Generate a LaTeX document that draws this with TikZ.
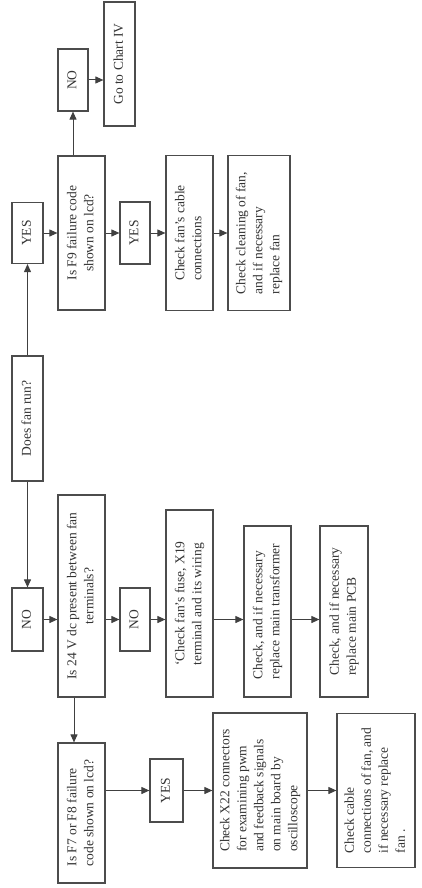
\documentclass[tikz,border=0pt]{standalone}
\usepackage{fontspec}
\setmainfont{Liberation Serif}
\usetikzlibrary{arrows.meta}
\newcommand{\turned}[2][l]{\rotatebox{90}{\begin{tabular}{@{}#1@{}}#2\end{tabular}}}
\tikzset{
  flowarrow/.style={-{Triangle[length=8pt, width=7pt]}, line width=1pt, black!75},
  boxnode/.style={draw=black!70, line width=1.2pt, inner sep=0pt, text=black!80},
  ansnode/.style={boxnode},
  asknode/.style={boxnode},
  actnode/.style={boxnode}
}

\begin{document}
\begin{tikzpicture}[x=1pt, y=-1pt, every node/.style={font=\fontsize{13.5}{17}\selectfont}]
  \useasboundingbox (0,0) rectangle (422,888);
  % start and answers
  \node[ansnode, minimum width=31pt, minimum height=125pt] (run) at (27.5,418.5) {\turned{Does fan run?}};
  \node[ansnode, minimum width=31pt, minimum height=63pt] (no1) at (27.5,619.5) {\turned{NO}};
  \node[ansnode, minimum width=31pt, minimum height=61pt] (yes1) at (27.5,233) {\turned{YES}};
  % questions
  \node[asknode, minimum width=47pt, minimum height=202pt] (v24) at (81.5,596) {\turned[c]{Is 24 V dc present between fan\\terminals?}};
  \node[asknode, minimum width=47pt, minimum height=154pt] (f9) at (81.5,233) {\turned[c]{Is F9 failure code\\shown on lcd?}};
  \node[asknode, minimum width=47pt, minimum height=140pt] (f78) at (81.5,813) {\turned{Is F7 or F8 failure\\code shown on lcd?}};
  \node[ansnode, minimum width=30pt, minimum height=62pt] (no2) at (73,80) {\turned{NO}};
  \node[actnode, minimum width=31pt, minimum height=124pt] (chart) at (119.5,64) {\turned{Go to Chart IV}};
  \node[ansnode, minimum width=30pt, minimum height=63pt] (no3) at (135,619.5) {\turned{NO}};
  \node[ansnode, minimum width=30pt, minimum height=62pt] (yes2) at (135,233) {\turned{YES}};
  \node[ansnode, minimum width=33pt, minimum height=63pt] (yes3) at (166.5,790.5) {\turned{YES}};
  % actions
  \node[actnode, minimum width=47pt, minimum height=187pt] (fuse) at (189.5,603.5) {\turned{‘Check fan's fuse, X19\\terminal and its wiring}};
  \node[actnode, minimum width=47pt, minimum height=155pt] (cable) at (189.5,233) {\turned{Check fan's cable\\connections}};
  \node[actnode, minimum width=47pt, minimum height=171pt] (trafo) at (267.5,611.5) {\turned{Check, and if necessary\\replace main transformer}};
  \node[actnode, minimum width=62pt, minimum height=155pt] (clean) at (259,233) {\turned{Check cleaning of fan,\\and if necessary\\replace fan}};
  \node[actnode, minimum width=48pt, minimum height=171pt] (pcb) at (344,611.5) {\turned{Check, and if necessary\\replace main PCB}};
  \node[actnode, minimum width=94pt, minimum height=155pt] (x22) at (260,790.5) {\turned{Check X22 connectors\\for examining pwm\\and feedback signals\\on main board by\\oscilloscope}};
  \node[actnode, minimum width=78pt, minimum height=154pt] (wire) at (376,790.5) {\turned{Check cable\\connections of fan, and\\if necessary replace\\fan .}};

  \draw[flowarrow] (run) -- (no1);
  \draw[flowarrow] (run) -- (yes1);
  % yes branch
  \draw[flowarrow] (yes1) -- (f9);
  \draw[flowarrow] (f9) -- (yes2);
  \draw[flowarrow] (yes2) -- (cable);
  \draw[flowarrow] (cable) -- (clean);
  \draw[flowarrow] (f9.north -| no2) -- (no2);
  \draw[flowarrow] (no2) -- (no2 -| chart.west);
  % no branch
  \draw[flowarrow] (no1) -- (no1 -| v24.west);
  \draw[flowarrow] (no1 -| v24.east) -- (no3);
  \draw[flowarrow] (no3) -- (no3 -| fuse.west);
  \draw[flowarrow] (no3 -| fuse.east) -- (no3 -| trafo.west);
  \draw[flowarrow] (no3 -| trafo.east) -- (no3 -| pcb.west);
  \draw[flowarrow] ([xshift=-7.5pt]v24.south) -- ([xshift=-7.5pt]f78.north);
  \draw[flowarrow] (f78.east |- yes3) -- (yes3);
  \draw[flowarrow] (yes3) -- (x22);
  \draw[flowarrow] (x22) -- (wire);
\end{tikzpicture}
\end{document}
